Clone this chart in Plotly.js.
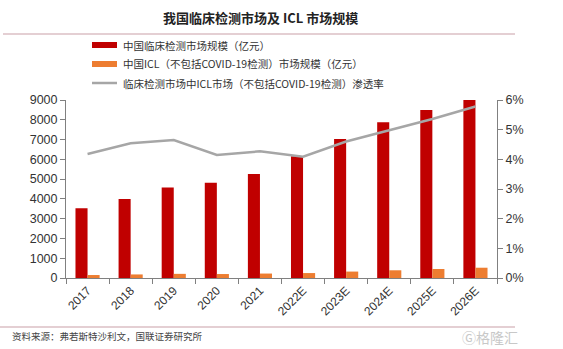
<!DOCTYPE html>
<html>
<head>
<meta charset="utf-8">
<script src="https://cdn.plot.ly/plotly-3.0.1.min.js"></script>
<style>html,body{margin:0;padding:0;background:#fff;}#chart{width:563px;height:349px;}</style>
</head>
<body>
<div id="chart"></div>
<script>
const years = ["2017","2018","2019","2020","2021","2022E","2023E","2024E","2025E","2026E"];
const clinicalMarket = [3530, 4000, 4570, 4820, 5260, 6150, 7030, 7880, 8490, 9000];
const iclMarket = [150, 180, 210, 200, 225, 250, 325, 390, 455, 520];
const penetration = [4.18, 4.54, 4.65, 4.15, 4.27, 4.09, 4.6, 4.97, 5.36, 5.78];
const seriesNames = [
  "中国临床检测市场规模（亿元）",
  "中国ICL（不包括COVID-19检测）市场规模（亿元）",
  "临床检测市场中ICL市场（不包括COVID-19检测）渗透率"
];
const leftTicks = [0,1000,2000,3000,4000,5000,6000,7000,8000,9000];
const rightTicks = [0,1,2,3,4,5,6];
const colors = ["#C00000", "#ED7D31", "#A6A6A6"];

const W = 563, H = 349, L = 66, R = 66, T = 100, B = 71;
const pw = W - L - R, ph = H - T - B;
const px = x => (x - L) / pw;
const py = y => (H - B - y) / ph;

const traces = [
  {type:"bar", x:years, y:clinicalMarket, name:seriesNames[0], marker:{color:colors[0]}, showlegend:false, hoverinfo:"y"},
  {type:"bar", x:years, y:iclMarket, name:seriesNames[1], marker:{color:colors[1]}, showlegend:false, hoverinfo:"y"},
  {type:"scatter", mode:"lines", x:years, y:penetration, yaxis:"y2", name:seriesNames[2], line:{color:colors[2], width:2.5}, showlegend:false}
];

const cjk = '"Noto Sans CJK SC", "Noto Sans", sans-serif';
const legendRows = [45, 64, 83];
const shapes = [
  {type:"line", xref:"paper", yref:"paper", x0:px(3), x1:px(515), y0:py(34), y1:py(34), line:{color:"#C9A0A8", width:1.2}},
  {type:"line", xref:"paper", yref:"paper", x0:px(0), x1:px(515), y0:py(327), y1:py(327), line:{color:"#C9A0A8", width:1.2}}
];
const annotations = [
  {xref:"paper", yref:"paper", x:px(260), y:py(17), text:"<b>我国临床检测市场及 ICL 市场规模</b>", showarrow:false, xanchor:"center", yanchor:"middle", font:{family:cjk, size:13, color:"#222"}},
  {xref:"paper", yref:"paper", x:px(10), y:py(336), text:"资料来源：弗若斯特沙利文，国联证券研究所", showarrow:false, xanchor:"left", yanchor:"middle", font:{family:cjk, size:9.5, color:"#444"}},
  {xref:"paper", yref:"paper", x:px(520), y:py(337), text:"Ⓖ格隆汇", showarrow:false, xanchor:"right", yanchor:"middle", font:{family:cjk, size:14, color:"#C8C8C8"}}
];
seriesNames.forEach((n, i) => {
  const yc = legendRows[i];
  if (i < 2) {
    shapes.push({type:"rect", xref:"paper", yref:"paper", x0:px(92), x1:px(117), y0:py(yc+3), y1:py(yc-3), fillcolor:colors[i], line:{width:0}});
  } else {
    shapes.push({type:"line", xref:"paper", yref:"paper", x0:px(92), x1:px(117), y0:py(yc), y1:py(yc), line:{color:colors[i], width:2.5}});
  }
  annotations.push({xref:"paper", yref:"paper", x:px(121), y:py(yc), text:n, showarrow:false, xanchor:"left", yanchor:"middle", font:{family:cjk, size:10.5, color:"#333"}});
});

const layout = {
  width:W, height:H,
  margin:{l:L, r:R, t:T, b:B, pad:0},
  paper_bgcolor:"#fff", plot_bgcolor:"#fff",
  barmode:"group", bargap:0.44, bargroupgap:0,
  font:{family:"Arial, 'Liberation Sans', sans-serif", size:12, color:"#333"},
  xaxis:{type:"category", showline:true, linecolor:"#808080", linewidth:1, ticks:"outside", tickson:"boundaries", ticklen:5, tickcolor:"#808080", tickangle:-45, tickfont:{size:12, color:"#333"}, showgrid:false, zeroline:false},
  yaxis:{range:[0,9000], tickvals:leftTicks, ticktext:leftTicks.map(String), showline:true, linecolor:"#808080", linewidth:1, ticks:"outside", ticklen:5, tickcolor:"#808080", showgrid:false, zeroline:false, tickfont:{size:12.5, color:"#333"}},
  yaxis2:{range:[0,6], overlaying:"y", side:"right", tickvals:rightTicks, ticktext:rightTicks.map(v => v + "%"), showline:true, linecolor:"#808080", linewidth:1, ticks:"outside", ticklen:5, tickcolor:"#808080", showgrid:false, zeroline:false, tickfont:{size:12.5, color:"#333"}},
  shapes:shapes,
  annotations:annotations,
  showlegend:false
};

Plotly.newPlot("chart", traces, layout, {displayModeBar:false, staticPlot:true});
</script>
</body>
</html>
